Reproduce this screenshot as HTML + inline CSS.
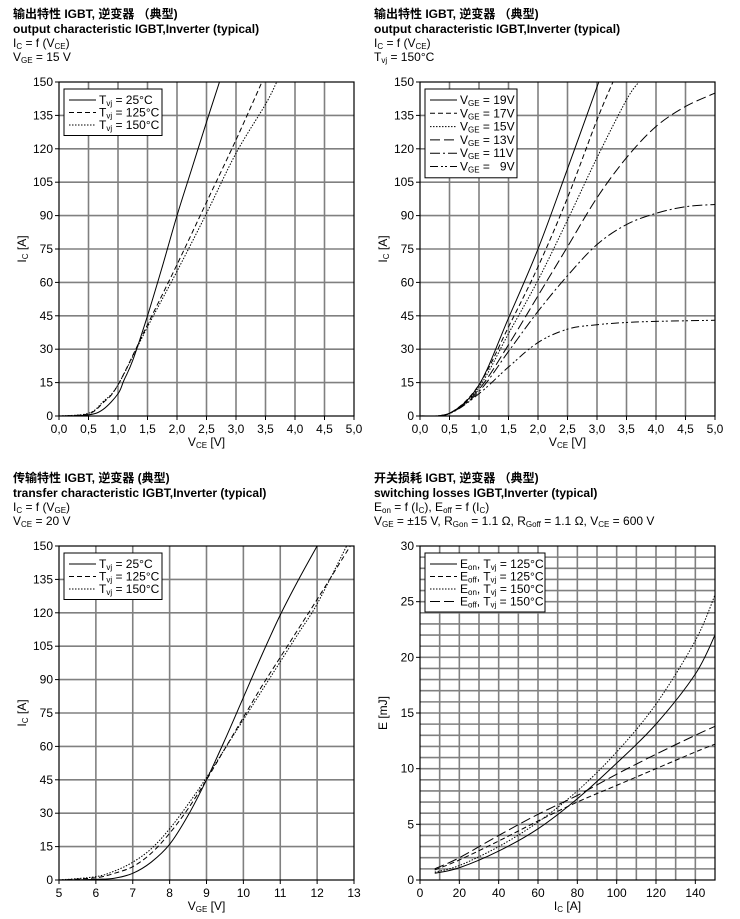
<!DOCTYPE html>
<html><head><meta charset="utf-8"><style>
body{margin:0;background:#fff}
svg{display:block;font-family:"Liberation Sans","Noto Sans CJK SC",sans-serif}
.t{font-size:12px;font-weight:bold}
.s{font-size:12px}
</style></head><body>
<svg id="page" width="740" height="919" viewBox="0 0 740 919" xmlns="http://www.w3.org/2000/svg">
<g>
<text class="t" x="13" y="18">输出特性 IGBT, 逆变器 （典型)</text>
<text class="t" x="13" y="33">output characteristic IGBT,Inverter (typical)</text>
<text class="s" x="13" y="47">I<tspan font-size="8" dy="2">C</tspan><tspan dy="-2"> = f (V</tspan><tspan font-size="8" dy="2">CE</tspan><tspan dy="-2">)</tspan></text>
<text class="s" x="13" y="61">V<tspan font-size="8" dy="2">GE</tspan><tspan dy="-2"> = 15 V</tspan></text>
</g>
<g>
<text class="t" x="374" y="18">输出特性 IGBT, 逆变器 （典型)</text>
<text class="t" x="374" y="33">output characteristic IGBT,Inverter (typical)</text>
<text class="s" x="374" y="47">I<tspan font-size="8" dy="2">C</tspan><tspan dy="-2"> = f (V</tspan><tspan font-size="8" dy="2">CE</tspan><tspan dy="-2">)</tspan></text>
<text class="s" x="374" y="61">T<tspan font-size="8" dy="2">vj</tspan><tspan dy="-2"> = 150°C</tspan></text>
</g>
<g>
<text class="t" x="13" y="482">传输特性 IGBT, 逆变器 (典型)</text>
<text class="t" x="13" y="497">transfer characteristic IGBT,Inverter (typical)</text>
<text class="s" x="13" y="511">I<tspan font-size="8" dy="2">C</tspan><tspan dy="-2"> = f (V</tspan><tspan font-size="8" dy="2">GE</tspan><tspan dy="-2">)</tspan></text>
<text class="s" x="13" y="525">V<tspan font-size="8" dy="2">CE</tspan><tspan dy="-2"> = 20 V</tspan></text>
</g>
<g>
<text class="t" x="374" y="482">开关损耗 IGBT, 逆变器 （典型)</text>
<text class="t" x="374" y="497">switching losses IGBT,Inverter (typical)</text>
<text class="s" x="374" y="511">E<tspan font-size="8" dy="2">on</tspan><tspan dy="-2"> = f (I</tspan><tspan font-size="8" dy="2">C</tspan><tspan dy="-2">), E</tspan><tspan font-size="8" dy="2">off</tspan><tspan dy="-2"> = f (I</tspan><tspan font-size="8" dy="2">C</tspan><tspan dy="-2">)</tspan></text>
<text class="s" x="374" y="525">V<tspan font-size="8" dy="2">GE</tspan><tspan dy="-2"> = ±15 V, R</tspan><tspan font-size="8" dy="2">Gon</tspan><tspan dy="-2"> = 1.1 Ω, R</tspan><tspan font-size="8" dy="2">Goff</tspan><tspan dy="-2"> = 1.1 Ω, V</tspan><tspan font-size="8" dy="2">CE</tspan><tspan dy="-2"> = 600 V</tspan></text>
</g>
</svg>
<script>
// ---------- Chart 1: output characteristic, VGE=15V ----------
const c1X25=[0,0.5,0.75,1,1.1,1.25,1.5,1.75,2,2.25,2.5,2.72];
const c1Y25=[0,0.5,3,10,16,25,45,67,90,111,132,150];
const c1X125=[0,0.5,0.75,1,1.5,2,2.5,3,3.44];
const c1Y125=[0,1,6,14,41,68,96,124,150];
const c1X150=[0,0.5,0.75,1,1.5,2,2.5,3,3.5,3.69];
const c1Y150=[0,1.2,6.5,14,40,65,91,118,140,150];
const vceTicks=["0,0","0,5","1,0","1,5","2,0","2,5","3,0","3,5","4,0","4,5","5,0"];
const icTicks=[0,15,30,45,60,75,90,105,120,135,150];
// ---------- Chart 2: output characteristic, Tvj=150 ----------
const c2X19=[0,0.5,1,1.5,2,2.5,3.03];
const c2Y19=[0,1.2,14,44,75,111,150];
const c2X17=[0,0.5,1,1.5,2,2.5,3,3.27];
const c2Y17=[0,1.2,14,40,67,98,133,150];
const c2X15=[0,0.5,1,1.5,2,2.5,3,3.5,3.71];
const c2Y15=[0,1.2,13,37,61,88,116,142,150];
const c2X13=[0,0.5,1,1.5,2,2.5,3,3.5,4,4.5,5];
const c2Y13=[0,1.2,12,32,54,76,98,116,130,139,145];
const c2X11=[0,0.5,1,1.5,2,2.5,3,3.5,4,4.5,5];
const c2Y11=[0,1.2,11,29,47,63,77,86,91,94,95];
const c2X9=[0,0.5,1,1.5,2,2.5,3,3.5,4,5];
const c2Y9=[0,1.1,10,22,33,39,41,42,42.5,43];
// ---------- Chart 3: transfer characteristic ----------
const c3X25=[5,6,6.5,7,7.5,8,8.5,9,9.5,10,10.5,11,11.5,12];
const c3Y25=[0,0.3,0.8,3,8,16,29,45,63,82,101,119,135,150];
const c3X125=[5,6,6.5,7,7.5,8,8.5,9,9.5,10,10.5,11,11.5,12,12.9];
const c3Y125=[0,1,3,6,12,21,32,45,59,73,87,100,113,126,150];
const c3X150=[5,6,6.5,7,7.5,8,8.5,9,9.5,10,10.5,11,11.5,12,12.8];
const c3Y150=[0,1.5,4,8,14,23,34,46,59,72,85,98,111,124,150];
const vgeTicks=[5,6,7,8,9,10,11,12,13];
// ---------- Chart 4: switching losses ----------
const c4X=[7.5,20,40,60,80,100,120,140,150];
const c4EonT125=[0.6,1.1,2.6,4.6,7.3,10.5,14,18.5,22];
const c4EoffT125=[0.9,1.8,3.5,5.3,7,8.5,10,11.5,12.2];
const c4EonT150=[0.7,1.3,3,5.2,8,11.5,15.8,21.5,25.6];
const c4EoffT150=[1,2,4,5.9,7.6,9.5,11.3,13,13.8];
const icAxisTicks=[0,20,40,60,80,100,120,140];
const eTicks=[0,5,10,15,20,25,30];

const NS="http://www.w3.org/2000/svg";
const svg=document.getElementById('page');
function mk(tag,attrs,parent){const e=document.createElementNS(NS,tag);for(const k in attrs)e.setAttribute(k,attrs[k]);(parent||svg).appendChild(e);return e;}
const DASH={solid:"",dash:"5,3",dot:"1.5,1.5",long:"10,4",dashdot:"10,3,2,3",dashdotdot:"8,3,2,2,2,3"};
function smoothPath(pts){
  let d="M"+pts[0][0].toFixed(2)+","+pts[0][1].toFixed(2);
  for(let i=0;i<pts.length-1;i++){
    const p0=pts[i-1]||pts[i],p1=pts[i],p2=pts[i+1],p3=pts[i+2]||p2;
    const c1=[p1[0]+(p2[0]-p0[0])/6,p1[1]+(p2[1]-p0[1])/6];
    const c2=[p2[0]-(p3[0]-p1[0])/6,p2[1]-(p3[1]-p1[1])/6];
    d+=" C"+c1[0].toFixed(2)+","+c1[1].toFixed(2)+" "+c2[0].toFixed(2)+","+c2[1].toFixed(2)+" "+p2[0].toFixed(2)+","+p2[1].toFixed(2);
  }
  return d;
}
function chart(o){
  const g=mk('g',{});
  
  
  const L=o.left,T=o.top,W=295,H=334;
  const sx=v=>L+(v-o.xmin)/(o.xmax-o.xmin)*W;
  const sy=v=>T+H-(v-o.ymin)/(o.ymax-o.ymin)*H;
  const clip=mk('clipPath',{id:o.name+'-clip'},g);
  mk('rect',{x:L,y:T,width:W,height:H},clip);
  const grid=mk('g',{stroke:'#808080','stroke-width':'1.6'},g);
  
  
  for(let v=o.xmin+o.gx;v<o.xmax-1e-9;v+=o.gx)mk('line',{x1:sx(v),x2:sx(v),y1:T,y2:T+H},grid);
  for(let v=o.ymin+o.gy;v<o.ymax-1e-9;v+=o.gy)mk('line',{x1:L,x2:L+W,y1:sy(v),y2:sy(v)},grid);
  const fr=mk('rect',{x:L,y:T,width:W,height:H,fill:'none',stroke:'#000','stroke-width':'1.2'},g);
  
  
  o.xt.forEach((lab,i)=>{const v=o.xtv[i];
    mk('line',{x1:sx(v),x2:sx(v),y1:T+H,y2:T+H+4,stroke:'#000'},g);
    const t=mk('text',{x:sx(v),y:T+H+17,'text-anchor':'middle','font-size':'12'},g);
    
    
    t.textContent=lab;});
  o.yt.forEach(v=>{
    mk('line',{x1:L-4,x2:L,y1:sy(v),y2:sy(v),stroke:'#000'},g);
    const t=mk('text',{x:L-6,y:sy(v)+4,'text-anchor':'end','font-size':'12'},g);
    
    
    t.textContent=v;});
  const xl=mk('text',{x:L+W/2,y:T+H+30,'text-anchor':'middle','font-size':'12'},g);
  
  
  xl.innerHTML=o.xlabel;
  const yl=mk('text',{x:0,y:0,'text-anchor':'middle','font-size':'12',transform:`translate(${L-33},${T+H/2}) rotate(-90)`},g);
  
  
  yl.innerHTML=o.ylabel;
  const sg=mk('g',{'clip-path':`url(#${o.name}-clip)`},g);
  o.series.forEach(s=>{
    const pts=s.x.map((xv,i)=>[sx(xv),sy(s.y[i])]);
    const p=mk('path',{d:smoothPath(pts),fill:'none',stroke:'#000','stroke-width':'1','stroke-dasharray':DASH[s.style]},sg);
    
    
  });
  const lg=mk('g',{},g);
  
  
  const sp=o.legendSp||12.5;
  const lx=L+5,ly=T+7,lw=o.legendW,lh=o.series.length*sp+9;
  mk('rect',{x:lx,y:ly,width:lw,height:lh,fill:'#fff',stroke:'#000','stroke-width':'1'},lg);
  o.series.forEach((s,i)=>{
    const yy=ly+11+i*sp;
    const e=mk('g',{},lg);
    
    
    mk('line',{x1:lx+5,x2:lx+32,y1:yy,y2:yy,stroke:'#000','stroke-dasharray':DASH[s.style]},e);
    const t=mk('text',{x:lx+35,y:yy+4,'font-size':'12'},e);
    t.innerHTML=s.label;
  });
}
const sub=(a)=>`<tspan font-size="8" dy="2">${a}</tspan><tspan dy="-2">`;
const tvj=(v)=>`T${sub('vj')} = ${v}°C</tspan>`;
const vge=(v)=>`V${sub('GE')} = ${v}V</tspan>`;
chart({name:'chart-output-vge15',left:59,top:82,xmin:0,xmax:5,ymin:0,ymax:150,gx:0.5,gy:15,
  xt:vceTicks,xtv:vceTicks.map((_,i)=>i*0.5),yt:icTicks,legendW:98,
  xlabel:`V${sub('CE')} [V]</tspan>`,ylabel:`I${sub('C')} [A]</tspan>`,
  series:[{id:'line-tvj-25',x:c1X25,y:c1Y25,style:'solid',label:tvj(25)},
          {id:'line-tvj-125',x:c1X125,y:c1Y125,style:'dash',label:tvj(125)},
          {id:'line-tvj-150',x:c1X150,y:c1Y150,style:'dot',label:tvj(150)}]});
chart({name:'chart-output-tvj150',left:420,top:82,xmin:0,xmax:5,ymin:0,ymax:150,gx:0.5,gy:15,
  xt:vceTicks,xtv:vceTicks.map((_,i)=>i*0.5),yt:icTicks,legendW:92,legendSp:13.3,
  xlabel:`V${sub('CE')} [V]</tspan>`,ylabel:`I${sub('C')} [A]</tspan>`,
  series:[{id:'line-vge-19',x:c2X19,y:c2Y19,style:'solid',label:vge(19)},
          {id:'line-vge-17',x:c2X17,y:c2Y17,style:'dash',label:vge(17)},
          {id:'line-vge-15',x:c2X15,y:c2Y15,style:'dot',label:vge(15)},
          {id:'line-vge-13',x:c2X13,y:c2Y13,style:'long',label:vge(13)},
          {id:'line-vge-11',x:c2X11,y:c2Y11,style:'dashdot',label:vge(11)},
          {id:'line-vge-9',x:c2X9,y:c2Y9,style:'dashdotdot',label:`V${sub('GE')} =&#160;&#160;&#160;9V</tspan>`}]});
chart({name:'chart-transfer',left:59,top:546,xmin:5,xmax:13,ymin:0,ymax:150,gx:1,gy:15,
  xt:vgeTicks.map(String),xtv:vgeTicks,yt:icTicks,legendW:98,
  xlabel:`V${sub('GE')} [V]</tspan>`,ylabel:`I${sub('C')} [A]</tspan>`,
  series:[{id:'line-tvj-25',x:c3X25,y:c3Y25,style:'solid',label:tvj(25)},
          {id:'line-tvj-125',x:c3X125,y:c3Y125,style:'dash',label:tvj(125)},
          {id:'line-tvj-150',x:c3X150,y:c3Y150,style:'dot',label:tvj(150)}]});
chart({name:'chart-switching-losses',left:420,top:546,xmin:0,xmax:150,ymin:0,ymax:30,gx:10,gy:1,
  xt:icAxisTicks.map(String),xtv:icAxisTicks,yt:eTicks,legendW:120,
  xlabel:`I${sub('C')} [A]</tspan>`,ylabel:`E [mJ]`,
  series:[{id:'line-eon-125',x:c4X,y:c4EonT125,style:'solid',label:`E${sub('on')}, T</tspan>${sub('vj')} = 125°C</tspan>`},
          {id:'line-eoff-125',x:c4X,y:c4EoffT125,style:'dash',label:`E${sub('off')}, T</tspan>${sub('vj')} = 125°C</tspan>`},
          {id:'line-eon-150',x:c4X,y:c4EonT150,style:'dot',label:`E${sub('on')}, T</tspan>${sub('vj')} = 150°C</tspan>`},
          {id:'line-eoff-150',x:c4X,y:c4EoffT150,style:'long',label:`E${sub('off')}, T</tspan>${sub('vj')} = 150°C</tspan>`}]});
</script>
</body></html>
